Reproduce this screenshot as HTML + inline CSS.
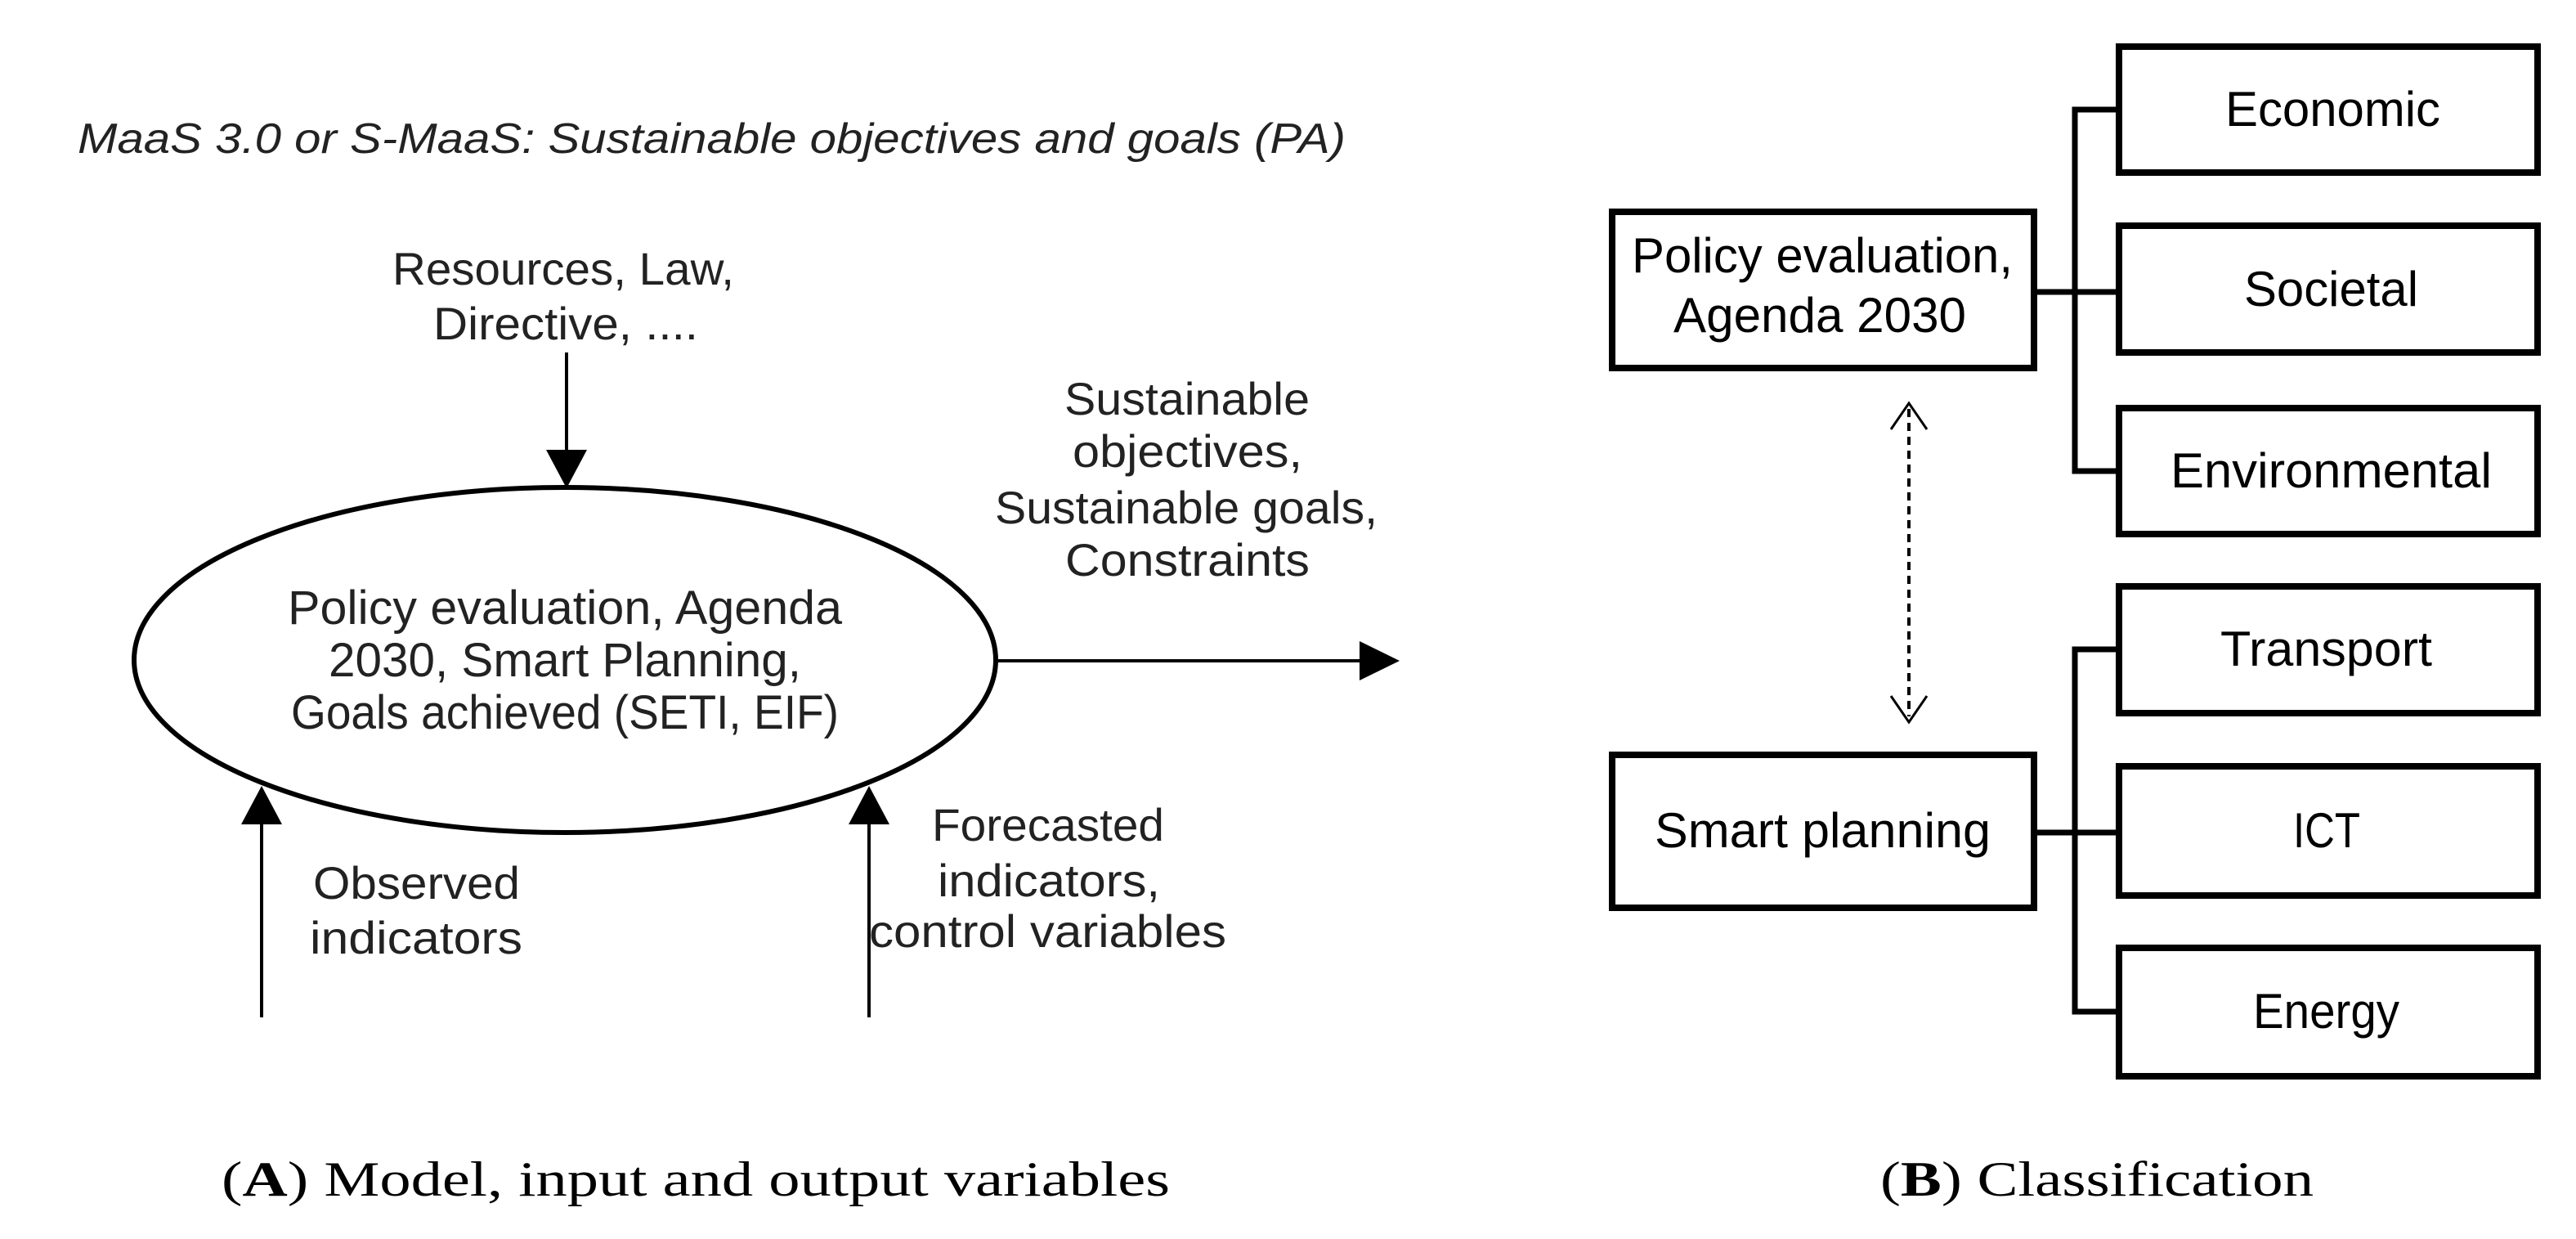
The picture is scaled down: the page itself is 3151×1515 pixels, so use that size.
<!DOCTYPE html>
<html><head><meta charset="utf-8"><style>
html,body{margin:0;padding:0;background:#fff}
svg{display:block}
.s{font-family:"Liberation Sans",sans-serif;fill:#222}
.b{font-family:"Liberation Sans",sans-serif;fill:#000}
.c{font-family:"Liberation Serif",serif;fill:#000}
</style></head><body>
<svg width="3151" height="1515" viewBox="0 0 3151 1515" xmlns="http://www.w3.org/2000/svg">
<rect width="3151" height="1515" fill="#fff"/>
<text class="s" x="95" y="187" font-size="52" font-style="italic" textLength="1551" lengthAdjust="spacingAndGlyphs">MaaS 3.0 or S-MaaS: Sustainable objectives and goals (PA)</text>

<text class="s" x="480" y="348" font-size="56" textLength="418" lengthAdjust="spacingAndGlyphs">Resources, Law,</text>
<text class="s" x="530" y="415" font-size="56" textLength="324" lengthAdjust="spacingAndGlyphs">Directive, ....</text>
<line x1="693" y1="431" x2="693" y2="555" stroke="#000" stroke-width="4"/>
<polygon points="693,597 668,550 718,550" fill="#000"/>

<ellipse cx="691" cy="807" rx="527" ry="211" fill="none" stroke="#000" stroke-width="6"/>
<text class="s" x="352" y="763" font-size="58" textLength="678" lengthAdjust="spacingAndGlyphs">Policy evaluation, Agenda</text>
<text class="s" x="402" y="827" font-size="58" textLength="578" lengthAdjust="spacingAndGlyphs">2030, Smart Planning,</text>
<text class="s" x="356" y="891" font-size="58" textLength="670" lengthAdjust="spacingAndGlyphs">Goals achieved (SETI, EIF)</text>

<line x1="1219" y1="808" x2="1670" y2="808" stroke="#000" stroke-width="4"/>
<polygon points="1712,808 1663,784 1663,832" fill="#000"/>
<text class="s" x="1302" y="507" font-size="56" textLength="300" lengthAdjust="spacingAndGlyphs">Sustainable</text>
<text class="s" x="1312" y="571" font-size="56" textLength="281" lengthAdjust="spacingAndGlyphs">objectives,</text>
<text class="s" x="1217" y="640" font-size="56" textLength="468" lengthAdjust="spacingAndGlyphs">Sustainable goals,</text>
<text class="s" x="1303" y="704" font-size="56" textLength="299" lengthAdjust="spacingAndGlyphs">Constraints</text>

<line x1="320" y1="1244" x2="320" y2="1000" stroke="#000" stroke-width="4"/>
<polygon points="320,961 295,1008 345,1008" fill="#000"/>
<line x1="1063" y1="1244" x2="1063" y2="1000" stroke="#000" stroke-width="4"/>
<polygon points="1063,961 1038,1008 1088,1008" fill="#000"/>
<text class="s" x="383" y="1099" font-size="56" textLength="253" lengthAdjust="spacingAndGlyphs">Observed</text>
<text class="s" x="379" y="1166" font-size="56" textLength="260" lengthAdjust="spacingAndGlyphs">indicators</text>
<text class="s" x="1140" y="1028" font-size="56" textLength="284" lengthAdjust="spacingAndGlyphs">Forecasted</text>
<text class="s" x="1147" y="1096" font-size="56" textLength="272" lengthAdjust="spacingAndGlyphs">indicators,</text>
<text class="s" x="1063" y="1158" font-size="56" textLength="437" lengthAdjust="spacingAndGlyphs">control variables</text>

<text class="c" x="271" y="1462" font-size="60" textLength="1160" lengthAdjust="spacingAndGlyphs">(<tspan font-weight="bold">A</tspan>) Model, input and output variables</text>
<text class="c" x="2300" y="1462" font-size="60" textLength="530" lengthAdjust="spacingAndGlyphs">(<tspan font-weight="bold">B</tspan>) Classification</text>

<g fill="none" stroke="#000" stroke-width="8">
<rect x="1972" y="259" width="516" height="191"/>
<rect x="1972" y="923" width="516" height="187"/>
<rect x="2592" y="57" width="512" height="154"/>
<rect x="2592" y="276" width="512" height="155"/>
<rect x="2592" y="499" width="512" height="154"/>
<rect x="2592" y="717" width="512" height="155"/>
<rect x="2592" y="937" width="512" height="158"/>
<rect x="2592" y="1159" width="512" height="157"/>
</g>
<g fill="none" stroke="#000" stroke-width="7">
<polyline points="2588,134 2538,134 2538,576 2588,576"/>
<line x1="2492" y1="357" x2="2588" y2="357"/>
<polyline points="2588,794 2538,794 2538,1237 2588,1237"/>
<line x1="2490" y1="1018" x2="2588" y2="1018"/>
</g>
<line x1="2335" y1="500" x2="2335" y2="876" stroke="#000" stroke-width="4" stroke-dasharray="10,7"/>
<polyline points="2313,525 2335,493 2357,525" fill="none" stroke="#000" stroke-width="3"/>
<polyline points="2313,851 2335,883 2357,851" fill="none" stroke="#000" stroke-width="3"/>

<text class="b" x="1996" y="333" font-size="60" textLength="466" lengthAdjust="spacingAndGlyphs">Policy evaluation,</text>
<text class="b" x="2047" y="406" font-size="60" textLength="358" lengthAdjust="spacingAndGlyphs">Agenda 2030</text>
<text class="b" x="2024" y="1036" font-size="60" textLength="411" lengthAdjust="spacingAndGlyphs">Smart planning</text>
<text class="b" x="2722" y="154" font-size="60" textLength="263" lengthAdjust="spacingAndGlyphs">Economic</text>
<text class="b" x="2745" y="374" font-size="60" textLength="213" lengthAdjust="spacingAndGlyphs">Societal</text>
<text class="b" x="2655" y="596" font-size="60" textLength="393" lengthAdjust="spacingAndGlyphs">Environmental</text>
<text class="b" x="2716" y="814" font-size="60" textLength="259" lengthAdjust="spacingAndGlyphs">Transport</text>
<text class="b" x="2805" y="1036" font-size="60" textLength="82" lengthAdjust="spacingAndGlyphs">ICT</text>
<text class="b" x="2756" y="1257" font-size="60" textLength="179" lengthAdjust="spacingAndGlyphs">Energy</text>
</svg>
</body></html>
